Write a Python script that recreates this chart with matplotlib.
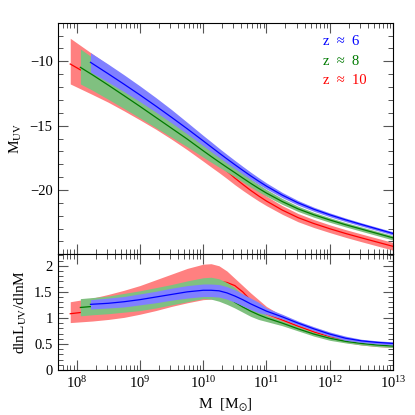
import numpy as np
import matplotlib
matplotlib.use('agg')
import matplotlib.pyplot as plt
from matplotlib.ticker import MultipleLocator, LogLocator, NullFormatter

plt.rcParams['font.family'] = ['Liberation Serif', 'DejaVu Serif']
plt.rcParams['mathtext.fontset'] = 'stix'

# log10 halo mass grids (each redshift starts at its own lowest mass)
logm_z6 = [8.22, 8.5, 8.75, 9.0, 9.25, 9.5, 9.75, 10.0, 10.125, 10.25, 10.375, 10.5,
           10.625, 10.75, 10.875, 11.0, 11.25, 11.5, 11.75, 12.0, 12.25, 12.5, 12.75, 13.0]
logm_z8 = [8.06, 8.25, 8.5, 8.75, 9.0, 9.25, 9.5, 9.75, 10.0, 10.125, 10.25, 10.375, 10.5,
           10.625, 10.75, 10.875, 11.0, 11.25, 11.5, 11.75, 12.0, 12.25, 12.5, 12.75, 13.0]
logm_z10 = [7.9, 8.25, 8.5, 8.75, 9.0, 9.25, 9.5, 9.75, 10.0, 10.125, 10.25, 10.375, 10.5,
            10.625, 10.75, 10.875, 11.0, 11.25, 11.5, 11.75, 12.0, 12.25, 12.5, 12.75, 13.0]

# ---- top panel: M_UV and its spread (up = towards fainter, dn = towards brighter)
muv_z6 = [-10.08, -10.97, -11.78, -12.61, -13.47, -14.35, -15.25, -16.18, -16.65, -17.12, -17.58, -18.03,
          -18.47, -18.90, -19.31, -19.70, -20.40, -21.00, -21.50, -21.93, -22.32, -22.68, -23.03, -23.38]
muv_z6_up = [0.75, 0.75, 0.73, 0.70, 0.66, 0.60, 0.50, 0.42, 0.40, 0.37, 0.35, 0.33,
             0.31, 0.29, 0.27, 0.25, 0.21, 0.18, 0.16, 0.15, 0.14, 0.13, 0.13, 0.13]
muv_z6_dn = [0.75, 0.65, 0.58, 0.52, 0.47, 0.43, 0.40, 0.38, 0.37, 0.35, 0.33, 0.31,
             0.29, 0.27, 0.25, 0.23, 0.20, 0.18, 0.16, 0.15, 0.14, 0.13, 0.13, 0.13]

muv_z8 = [-10.47, -11.05, -11.85, -12.67, -13.50, -14.35, -15.20, -16.05, -16.95, -17.39, -17.82, -18.24, -18.65,
          -19.07, -19.48, -19.87, -20.24, -20.90, -21.47, -21.93, -22.33, -22.70, -23.04, -23.38, -23.72]
muv_z8_up = [1.43, 1.35, 1.25, 1.15, 1.05, 0.95, 0.85, 0.72, 0.60, 0.55, 0.50, 0.46, 0.42,
             0.38, 0.34, 0.31, 0.28, 0.24, 0.21, 0.19, 0.18, 0.17, 0.17, 0.17, 0.17]
muv_z8_dn = [1.29, 1.20, 1.10, 1.00, 0.90, 0.80, 0.70, 0.60, 0.50, 0.45, 0.40, 0.36, 0.33,
             0.31, 0.29, 0.27, 0.25, 0.22, 0.20, 0.19, 0.18, 0.17, 0.17, 0.17, 0.17]

muv_z10 = [-10.21, -11.20, -11.90, -12.67, -13.45, -14.25, -15.10, -16.00, -16.98, -17.49, -18.00, -18.53, -19.07,
           -19.56, -20.03, -20.46, -20.86, -21.56, -22.15, -22.61, -23.01, -23.38, -23.72, -24.05, -24.38]
muv_z10_up = [2.00, 1.78, 1.62, 1.46, 1.32, 1.18, 1.05, 0.92, 0.80, 0.74, 0.68, 0.62, 0.56,
              0.51, 0.46, 0.42, 0.38, 0.34, 0.32, 0.31, 0.30, 0.30, 0.30, 0.30, 0.30]
muv_z10_dn = [1.55, 1.38, 1.28, 1.18, 1.10, 1.02, 0.95, 0.88, 0.78, 0.72, 0.65, 0.58, 0.52,
              0.47, 0.42, 0.39, 0.36, 0.33, 0.32, 0.31, 0.30, 0.30, 0.30, 0.30, 0.30]

# ---- bottom panel: dlnL_UV/dlnM with lower/upper envelope
slope_z6 = [1.26, 1.28, 1.31, 1.35, 1.40, 1.45, 1.50, 1.53, 1.53, 1.52, 1.48, 1.42,
            1.35, 1.27, 1.20, 1.13, 1.02, 0.90, 0.79, 0.69, 0.61, 0.56, 0.53, 0.51]
slope_z6_hi = [1.35, 1.38, 1.41, 1.46, 1.51, 1.57, 1.62, 1.65, 1.65, 1.64, 1.60, 1.54,
               1.46, 1.38, 1.30, 1.19, 1.07, 0.94, 0.83, 0.73, 0.65, 0.59, 0.56, 0.54]
slope_z6_lo = [1.17, 1.19, 1.21, 1.25, 1.29, 1.34, 1.38, 1.41, 1.41, 1.40, 1.36, 1.30,
               1.23, 1.16, 1.10, 1.07, 0.98, 0.865, 0.755, 0.655, 0.57, 0.53, 0.50, 0.48]

slope_z8 = [1.20, 1.22, 1.24, 1.27, 1.31, 1.36, 1.41, 1.47, 1.53, 1.54, 1.51, 1.43, 1.30,
            1.21, 1.13, 1.06, 1.00, 0.90, 0.79, 0.69, 0.61, 0.55, 0.51, 0.48, 0.46]
slope_z8_hi = [1.37, 1.39, 1.42, 1.47, 1.52, 1.58, 1.64, 1.71, 1.77, 1.78, 1.75, 1.68, 1.58,
               1.44, 1.30, 1.18, 1.05, 0.94, 0.83, 0.72, 0.64, 0.58, 0.54, 0.51, 0.49]
slope_z8_lo = [1.04, 1.06, 1.08, 1.11, 1.14, 1.19, 1.25, 1.31, 1.37, 1.36, 1.32, 1.26, 1.19,
               1.11, 1.03, 0.97, 0.93, 0.85, 0.75, 0.65, 0.57, 0.52, 0.48, 0.45, 0.43]

slope_z10 = [1.08, 1.13, 1.17, 1.22, 1.27, 1.34, 1.42, 1.51, 1.62, 1.67, 1.70, 1.68, 1.62,
             1.50, 1.34, 1.20, 1.08, 0.96, 0.84, 0.73, 0.635, 0.57, 0.52, 0.49, 0.47]
slope_z10_hi = [1.31, 1.38, 1.45, 1.53, 1.62, 1.73, 1.84, 1.95, 2.03, 2.04, 2.00, 1.90, 1.76,
                1.62, 1.48, 1.35, 1.22, 1.04, 0.91, 0.78, 0.68, 0.61, 0.56, 0.53, 0.51]
slope_z10_lo = [0.91, 0.94, 0.97, 1.01, 1.07, 1.14, 1.22, 1.29, 1.35, 1.36, 1.35, 1.32, 1.28,
                1.23, 1.17, 1.10, 1.04, 0.92, 0.81, 0.70, 0.60, 0.53, 0.48, 0.45, 0.43]

labels = ['z  \u2248  6', 'z  \u2248  8', 'z  \u2248  10']
line_colors = ['#0000ff', '#007a00', '#ff0000']

# drawing order: z~10 first, z~6 on top
series = [
    (logm_z10, muv_z10, muv_z10_up, muv_z10_dn, slope_z10, slope_z10_lo, slope_z10_hi, '#ff0000', '#ff8080'),
    (logm_z8, muv_z8, muv_z8_up, muv_z8_dn, slope_z8, slope_z8_lo, slope_z8_hi, '#007a00', '#80c080'),
    (logm_z6, muv_z6, muv_z6_up, muv_z6_dn, slope_z6, slope_z6_lo, slope_z6_hi, '#0000ff', '#8080ff'),
]

fig = plt.figure(figsize=(4.15, 4.15), dpi=100)
ax1 = fig.add_axes([0.1386, 0.3872, 0.8084, 0.5581])
ax2 = fig.add_axes([0.1386, 0.1084, 0.8084, 0.2788])

# band then line per redshift, so each later band hides the earlier curves
for i, (lm, m, m_up, m_dn, s, slo, shi, lc, fc) in enumerate(series):
    mass = 10 ** np.array(lm)
    m = np.array(m)
    ax1.fill_between(mass, m - np.array(m_dn), m + np.array(m_up), color=fc, lw=0, zorder=2 * i + 1)
    ax1.plot(mass, m, color=lc, lw=0.9, zorder=2 * i + 2)
    ax2.fill_between(mass, slo, shi, color=fc, lw=0, zorder=2 * i + 1)
    ax2.plot(mass, s, color=lc, lw=0.9, zorder=2 * i + 2)

for ax in (ax1, ax2):
    ax.set_xscale('log')
    ax.set_xlim(5e7, 1e13)
    ax.xaxis.set_major_locator(LogLocator(base=10, numticks=10))
    ax.xaxis.set_minor_locator(LogLocator(base=10, subs=np.arange(2, 10), numticks=20))
    ax.xaxis.set_minor_formatter(NullFormatter())
    ax.tick_params(which='both', direction='in', top=True, right=True, color='#555555', labelsize=10.5)
    ax.tick_params(which='major', length=7, width=0.8)
    ax.tick_params(which='minor', length=3.5, width=0.7)
    for sp in ax.spines.values():
        sp.set_linewidth(0.8)
        sp.set_zorder(10)

ax1.set_ylim(-25, -7)
ax1.yaxis.set_minor_locator(MultipleLocator(1))
ax1.tick_params(labelbottom=False)
ax1.set_yticks([-10, -15, -20])
ax1.set_yticklabels(['\u221210', '\u221215', '\u221220'])
ax1.set_ylabel(r'M$_{\rm UV}$', fontsize=11)

ax2.set_ylim(0, 2.22)
ax2.yaxis.set_minor_locator(MultipleLocator(0.1))
ax2.set_yticks([0, 0.5, 1, 1.5, 2])
ax2.set_yticklabels(['0', '0.5', '1', '1.5', '2'])
ax2.set_ylabel(r'dlnL$_{\rm UV}$/dlnM', fontsize=11)
ax2.set_xlabel(r'M  [M$_{\odot}$]', fontsize=11)

for i, (lab, col) in enumerate(zip(labels, line_colors)):
    ax1.text(0.79, 0.917 - i * 0.083, lab, color=col, fontsize=10.5,
             transform=ax1.transAxes, ha='left', va='center', zorder=12)

fig.savefig('out.png', dpi=100)
